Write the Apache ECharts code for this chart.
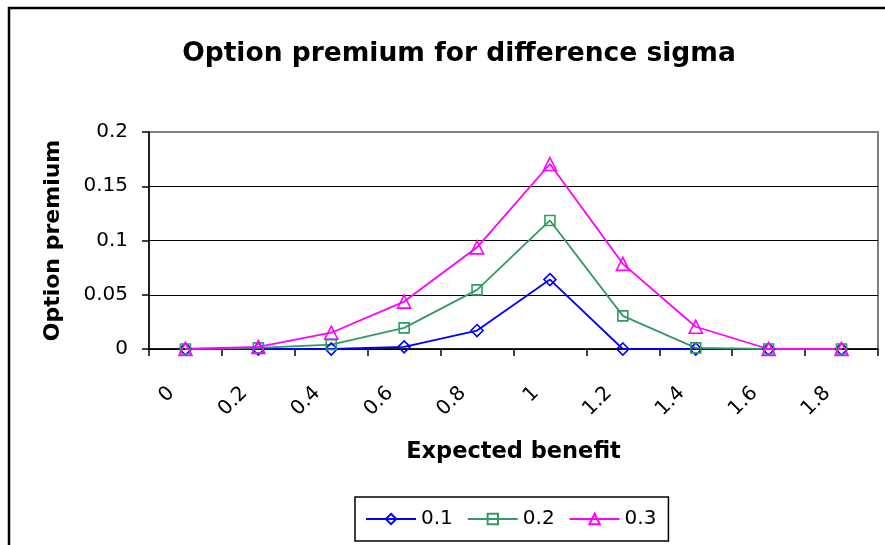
<!DOCTYPE html>
<html><head><meta charset="utf-8">
<script src="https://cdn.jsdelivr.net/npm/echarts@6/dist/echarts.min.js"></script>
<style>html,body{margin:0;padding:0;background:#fff}#c{width:885px;height:545px}</style>
</head><body><div id="c"></div>
<script>
var categories = ['0','0.2','0.4','0.6','0.8','1','1.2','1.4','1.6','1.8'];
var sigma01 = [0, 0, 0, 0.002, 0.017, 0.064, 0, 0, 0, 0];
var sigma02 = [0, 0.001, 0.004, 0.0195, 0.0545, 0.1185, 0.0305, 0.001, 0, 0];
var sigma03 = [0, 0.002, 0.015, 0.0437, 0.0937, 0.1705, 0.0785, 0.0205, 0, 0];
var seriesNames = ['0.1','0.2','0.3'];
var yTicks = {min: 0, max: 0.2, interval: 0.05};

var FONT = 'DejaVu Sans';
var chart = echarts.init(document.getElementById('c'), null, {renderer: 'canvas'});
function mk(name, data, color, symbol, size) {
  return {
    name: name, type: 'line', data: data, symbol: symbol, symbolSize: size,
    showAllSymbol: true, animation: false,
    lineStyle: {color: color, width: 1.8},
    itemStyle: {color: 'rgba(255,255,255,0)', borderColor: color, borderWidth: 1.6}
  };
}
chart.setOption({
  animation: false,
  backgroundColor: '#fff',
  title: {
    text: 'Option premium for difference sigma',
    left: 454, top: 36, textAlign: 'center',
    textStyle: {fontFamily: FONT, fontWeight: 'bold', fontSize: 26.5, color: '#000'}
  },
  graphic: [{
    type: 'rect', shape: {x: 9, y: 8, width: 1000, height: 1000},
    style: {fill: 'none', stroke: '#000', lineWidth: 2.5}, z: 0
  }],
  grid: {left: 149, right: 7, top: 132, bottom: 196, show: true,
         borderColor: '#808080', borderWidth: 2, backgroundColor: 'transparent'},
  legend: {
    data: seriesNames, left: 355, top: 497, orient: 'horizontal',
    borderColor: '#000', borderWidth: 1.5, padding: [12, 12, 12, 10],
    itemWidth: 50, itemHeight: 13, itemGap: 14,
    textStyle: {fontFamily: FONT, fontSize: 20, color: '#000'}
  },
  xAxis: {
    type: 'category', data: categories, boundaryGap: true,
    name: 'Expected benefit', nameLocation: 'middle', nameGap: 92,
    nameTextStyle: {fontFamily: FONT, fontWeight: 'bold', fontSize: 22.5, color: '#000'},
    axisLine: {lineStyle: {color: '#000', width: 1.5}},
    axisTick: {show: true, length: 7, lineStyle: {color: '#000', width: 1.5}},
    axisLabel: {rotate: 45, margin: 27, padding: [0, 20, 0, 0], fontFamily: FONT, fontSize: 20, color: '#000', interval: 0},
    splitLine: {show: false}
  },
  yAxis: {
    type: 'value', min: yTicks.min, max: yTicks.max, interval: yTicks.interval,
    name: 'Option premium', nameLocation: 'middle', nameGap: 85, nameRotate: 90,
    nameTextStyle: {fontFamily: FONT, fontWeight: 'bold', fontSize: 22, color: '#000'},
    axisLine: {show: true, lineStyle: {color: '#000', width: 1.5}},
    axisTick: {show: true, length: 7, lineStyle: {color: '#000', width: 1.5}},
    axisLabel: {margin: 21, fontFamily: FONT, fontSize: 20, color: '#000'},
    splitLine: {show: true, lineStyle: {color: ['#000','#000','#000','#000','#808080'], width: 1.2}}
  },
  series: [
    mk(seriesNames[0], sigma01, '#0000FF', 'diamond', 12),
    mk(seriesNames[1], sigma02, '#339966', 'rect', 10),
    mk(seriesNames[2], sigma03, '#FF00FF', 'triangle', 13)
  ]
});
</script></body></html>
